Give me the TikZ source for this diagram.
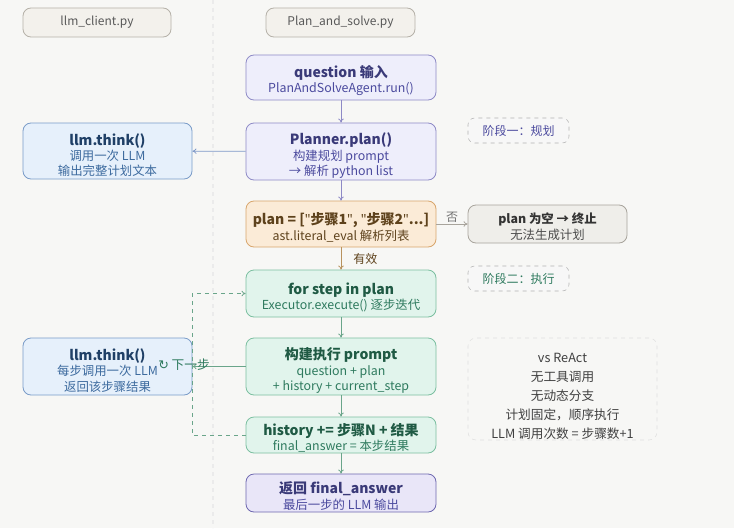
\documentclass[tikz,border=0pt]{standalone}
\usepackage{fontspec}
\setmainfont{Noto Sans CJK SC}
\newfontfamily\symfont{DejaVu Sans}
\newfontfamily\latinfont{Noto Sans}
\usepackage{xcolor}
\usepackage{tikz}
\usetikzlibrary{arrows.meta,positioning,calc}

\definecolor{bgcol}{HTML}{F7F7F5}
\definecolor{filefill}{HTML}{F3F1EC}
\definecolor{filedraw}{HTML}{B5B1A8}
\definecolor{lavfill}{HTML}{EEEEFB}
\definecolor{lavdraw}{HTML}{8E8AC6}
\definecolor{lavtext}{HTML}{3A3A78}
\definecolor{lavsub}{HTML}{4B4A9E}
\definecolor{endfill}{HTML}{E9E6F8}
\definecolor{enddraw}{HTML}{6E68B0}
\definecolor{bluefill}{HTML}{E6F0FB}
\definecolor{bluedraw}{HTML}{7A9CC8}
\definecolor{bluetext}{HTML}{1F3F66}
\definecolor{bluesub}{HTML}{3C6A9E}
\definecolor{orgfill}{HTML}{FBEBD7}
\definecolor{orgdraw}{HTML}{D8A66C}
\definecolor{orgtext}{HTML}{5E421C}
\definecolor{orgline}{HTML}{B8925E}
\definecolor{grayfill}{HTML}{EFEEEA}
\definecolor{graydraw}{HTML}{A8A49C}
\definecolor{grntext}{HTML}{1F5A44}
\definecolor{grnsub}{HTML}{2E7A5E}
\definecolor{grnfill}{HTML}{E1F4EC}
\definecolor{grndraw}{HTML}{7BBFA0}
\definecolor{grnline}{HTML}{6AA58A}

\begin{document}
\begin{tikzpicture}[x=0.75pt, y=-0.75pt,
    every node/.style={font=\fontsize{9.3}{11.4}\selectfont, align=center, inner sep=1pt},
    box/.style={draw, rounded corners=6pt, line width=0.6pt, minimum width=142.5pt, inner ysep=0pt},
    filebox/.style={draw, rounded corners=6pt, line width=0.6pt, fill=filefill, draw=filedraw, text=black!65, minimum height=21.75pt, font=\fontsize{9}{11}\selectfont},
    lavbox/.style={box, fill=lavfill, draw=lavdraw, text=lavsub},
    bluebox/.style={box, fill=bluefill, draw=bluedraw, text=bluesub, minimum width=126.75pt},
    orgbox/.style={box, fill=orgfill, draw=orgdraw, text=orgtext},
    graybox/.style={box, fill=grayfill, draw=graydraw, text=black!70, minimum width=119.25pt},
    grnbox/.style={box, fill=grnfill, draw=grndraw, text=grnsub},
    phasebox/.style={draw=black!30, dashed, rounded corners=5pt, fill=black!3, minimum width=75.75pt, minimum height=18.75pt, font=\fontsize{9}{11}\selectfont},
    flow/.style={-{To[length=3pt,width=4pt]}, line width=0.6pt}
  ]
    \fill[bgcol] (0,0) rectangle (734,528);
    \useasboundingbox (0,0) rectangle (734,528);
    \draw[black!8, dashed, line width=0.8pt] (213,0) -- (213,528);

    % file headers
    \node[filebox, minimum width=111pt] (clientfile) at (97,22.5) {llm\_client.py};
    \node[filebox, minimum width=111.75pt] (solvefile) at (340.5,22.5) {Plan\_and\_solve.py};

    % phase one: planning
    \node[lavbox, minimum height=33.75pt] (question) at (341,77.5)
      {\rule{0pt}{14pt}{\fontsize{10.5}{13}\selectfont\bfseries\color{lavtext} question 输入}\\PlanAndSolveAgent.run()};
    \node[lavbox, minimum height=42.75pt] (planner) at (341,151.5)
      {\rule{0pt}{15pt}{\fontsize{10.5}{13}\selectfont\bfseries\color{lavtext} Planner.plan()}\\构建规划 prompt\\→ 解析 python list};
    \node[bluebox, minimum height=42pt] (thinkplan) at (107.5,151)
      {\rule{0pt}{15pt}{\fontsize{10.5}{13}\selectfont\bfseries\color{bluetext} llm.think()}\\调用一次 LLM\\输出完整计划文本};
    \node[orgbox, minimum height=34.5pt] (plan) at (341,224)
      {\rule{0pt}{14pt}{\fontsize{10.5}{13}\selectfont\bfseries plan = [{\latinfont"}步骤1{\latinfont"}, {\latinfont"}步骤2{\latinfont"}...]}\\ast.literal\_eval 解析列表};
    \node[graybox, minimum height=28.5pt] (empty) at (547.5,224)
      {\rule{0pt}{12pt}{\bfseries\color{black!80} plan 为空 → 终止}\\无法生成计划};
    \node[phasebox, text=lavsub] (phaseone) at (518.5,130.5) {阶段一：规划};
    \node[phasebox, text=grnsub] (phasetwo) at (518.5,278.5) {阶段二：执行};

    % phase two: execution
    \node[grnbox, minimum height=35.25pt] (forstep) at (341,293.5)
      {\rule{0pt}{14pt}{\fontsize{10.5}{13}\selectfont\bfseries\color{grntext} for step in plan}\\Executor.execute() 逐步迭代};
    \node[grnbox, minimum height=42.75pt] (buildprompt) at (341,366.5)
      {\rule{0pt}{15pt}{\fontsize{10.5}{13}\selectfont\bfseries\color{grntext} 构建执行 prompt}\\question + plan\\+ history + current\_step};
    \node[bluebox, minimum height=42.75pt] (thinkstep) at (107.5,366.5)
      {\rule{0pt}{15pt}{\fontsize{10.5}{13}\selectfont\bfseries\color{bluetext} llm.think()}\\每步调用一次 LLM\\返回该步骤结果};
    \node[grnbox, minimum height=27pt] (history) at (341,435)
      {\rule{0pt}{13pt}{\fontsize{10.5}{13}\selectfont\bfseries\color{grntext} history += 步骤N + 结果}\\final\_answer = 本步结果};
    \node[box, fill=endfill, draw=enddraw, text=lavsub, minimum height=28.5pt] (finalans) at (341,493)
      {\rule{0pt}{13.5pt}{\fontsize{10.5}{13}\selectfont\bfseries\color{lavtext} 返回 final\_answer}\\最后一步的 LLM 输出};
    \node[draw=black!12, dashed, rounded corners=6pt, fill=bgcol, minimum width=141.75pt, minimum height=76.5pt, inner ysep=0pt,
      text=black!75, font=\fontsize{9.5}{14.2}\selectfont] (compare) at (562.5,389)
      {\rule{0pt}{18.5pt}vs ReAct\\无工具调用\\无动态分支\\计划固定，顺序执行\\LLM 调用次数 = 步骤数+1};

    % connectors
    \draw[flow, lavdraw] (question) -- (planner);
    \draw[flow, bluedraw!80!lavdraw] (planner) -- (thinkplan);
    \draw[flow, lavdraw] (planner) -- (plan);
    \draw[flow, graydraw] (plan) -- node[above, text=black!55, font=\fontsize{9}{11}\selectfont] {否} (empty);
    \draw[flow, orgline] (plan) -- node[right=8pt, text=orgtext, font=\fontsize{9}{11}\selectfont] {有效} (forstep);
    \draw[flow, grnline] (forstep) -- (buildprompt);
    \draw[flow, grnline] (buildprompt) -- (thinkstep);
    \draw[flow, grnline] (buildprompt) -- (history);
    \draw[flow, grnline] (history) -- (finalans);
    \coordinate (loopcorner) at (192,435);
    \draw[flow, grnline, dashed] (history.west) -- (loopcorner) |- node[pos=0.25, xshift=-6pt, text=grnsub, font=\fontsize{9.5}{11}\selectfont] {{\symfont ↻} 下一步} (forstep.west);
  \end{tikzpicture}
\end{document}
